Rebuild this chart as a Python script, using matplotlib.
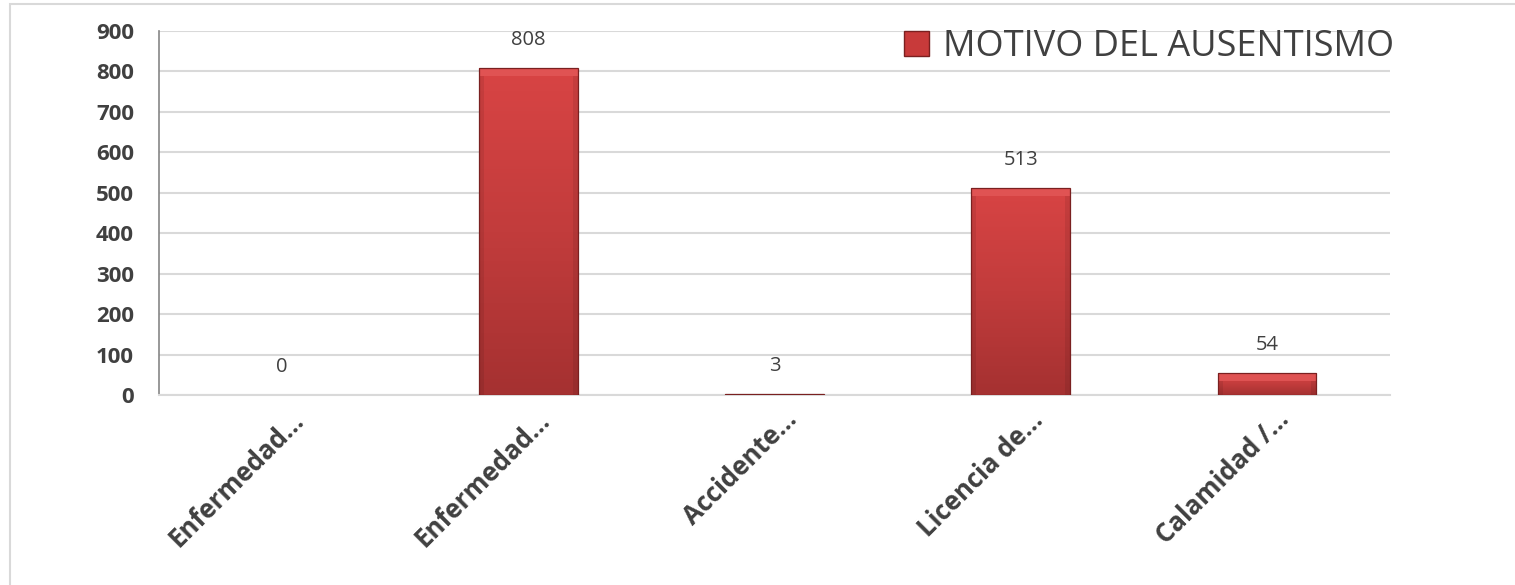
import numpy as np
import matplotlib
matplotlib.use('Agg')
from matplotlib import pyplot as plt
from matplotlib import transforms
from matplotlib.colors import LinearSegmentedColormap
from matplotlib.patches import Rectangle
from matplotlib.lines import Line2D

categories = ['Enfermedad...', 'Enfermedad...', 'Accidente...', 'Licencia de...', 'Calamidad /...']
values = [0, 808, 3, 513, 54]
series_name = 'MOTIVO DEL AUSENTISMO'
y_ticks = [0, 100, 200, 300, 400, 500, 600, 700, 800, 900]

plt.rcParams['font.family'] = ['Open Sans', 'DejaVu Sans']

W, H = 1515, 585
fig = plt.figure(figsize=(W / 100, H / 100), dpi=100)
ax = fig.add_axes([159 / W, 1 - 395 / H, (1390 - 159) / W, (395 - 31) / H])

# light frame around the chart (cut off right and bottom like the screenshot)
fig.patches.append(Rectangle((10 / W, -0.1), 1.2, 1 - 4 / H + 0.1, transform=fig.transFigure,
                             fill=False, edgecolor='#D9D9D9', linewidth=1.5))

x = np.arange(len(categories))
bars = ax.bar(x, values, width=0.40, color='#C03A3A', linewidth=0, zorder=3)

# shaded bars: vertical gradient + bevel strips
grad = LinearSegmentedColormap.from_list('bar', ['#A53131', '#C23C3C', '#D84444'])
for b in bars:
    h = b.get_height()
    if h <= 0:
        continue
    x0, w = b.get_x(), b.get_width()
    img = ax.imshow(np.linspace(0, 1, 100).reshape(-1, 1), cmap=grad, origin='lower', aspect='auto',
                    extent=(x0, x0 + w, 0, h), zorder=3.5)
    img.set_clip_path(b)
    bev = min(h, 20)
    ax.add_patch(Rectangle((x0, h - bev), w, bev, facecolor='#E25656', edgecolor='none',
                           alpha=0.85, zorder=3.6))
    for sx in (x0, x0 + w * 0.95):
        ax.add_patch(Rectangle((sx, 0), w * 0.05, h - bev, facecolor='black', edgecolor='none',
                               alpha=0.08, zorder=3.6))
    ax.add_patch(Rectangle((x0, 0), w, h, fill=False, edgecolor='#7A2020', linewidth=0.9, zorder=3.7))

for xi, v in zip(x, values):
    ax.annotate(str(v), (xi, v), xytext=(0, 20), textcoords='offset points', ha='center', va='center',
                fontsize=14.5, color='#404040')

ax.set_xlim(-0.5, len(categories) - 0.5)
ax.set_ylim(0, 900)
ax.set_yticks(y_ticks)
ax.set_yticklabels([str(t) for t in y_ticks], fontsize=16, fontweight='bold', color='#404040')
ax.set_xticks(x)
ax.set_xticklabels(categories, rotation=45, ha='right', va='center', rotation_mode='anchor',
                   fontsize=18.5, fontweight='bold', color='#404040')
ax.tick_params(axis='y', length=0, pad=18)
ax.tick_params(axis='x', length=0, pad=15)
shift = transforms.ScaledTranslation(18 / 100, 0, fig.dpi_scale_trans)
for lbl in ax.get_xticklabels():
    lbl.set_transform(lbl.get_transform() + shift)

ax.grid(axis='y', color='#D9D9D9', linewidth=1.5, zorder=0)
ax.set_axisbelow(True)
for side in ['top', 'right']:
    ax.spines[side].set_visible(False)
ax.spines['bottom'].set_color('#D9D9D9')
ax.spines['bottom'].set_linewidth(1.5)
ax.spines['left'].set_color('#868686')
ax.spines['left'].set_linewidth(1.2)

handle = Line2D([], [], marker='s', linestyle='none', markersize=18, markerfacecolor='#C83A3A',
                markeredgecolor='#7A2020')
fig.legend([handle], [series_name], loc='center left', bbox_to_anchor=(903 / W, 1 - 47 / H),
           frameon=False, fontsize=26, labelcolor='#404040', handlelength=0.7, handletextpad=0.4,
           borderpad=0, borderaxespad=0)

fig.savefig('out.png', dpi=100)
